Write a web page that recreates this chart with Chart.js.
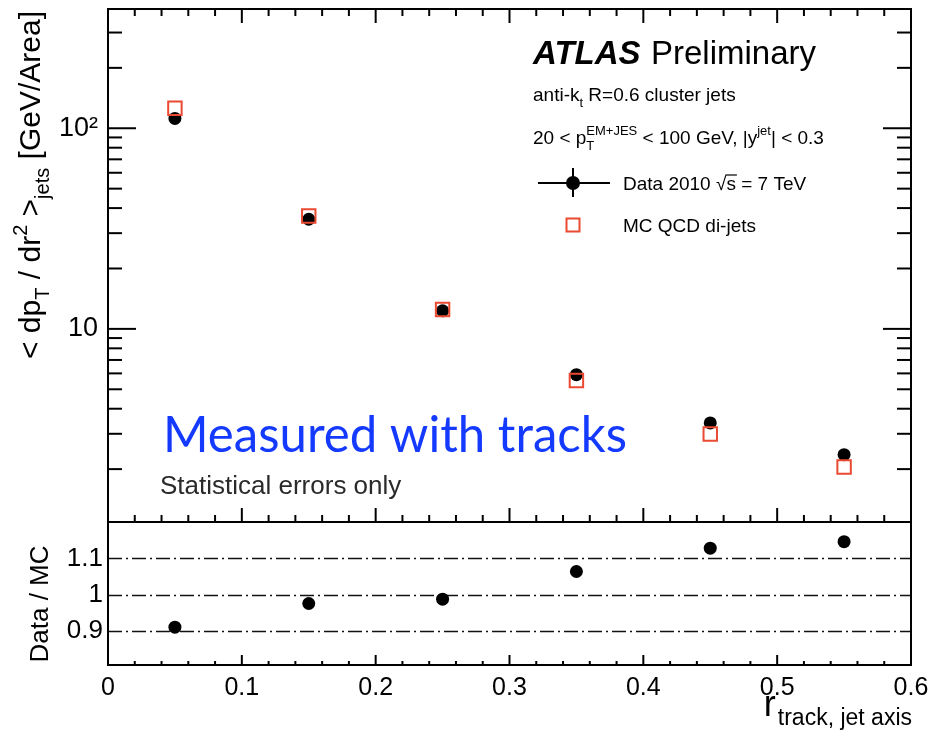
<!DOCTYPE html>
<html>
<head>
<meta charset="utf-8">
<script src="https://cdn.jsdelivr.net/npm/chart.js@4/dist/chart.umd.min.js"></script>
<style>
  html, body { margin: 0; padding: 0; background: #fff; }
  #wrap { position: relative; width: 951px; height: 730px; overflow: hidden; }
  #wrap canvas { position: absolute; left: 0; }
  #upper { top: 0; }
  #lower { top: 512px; }
</style>
</head>
<body>
<div id="wrap">
  <canvas id="upper" width="951" height="523"></canvas>
  <canvas id="lower" width="951" height="218"></canvas>
</div>
<script>
// r bin centres and measured values
const rBins = [0.05, 0.15, 0.25, 0.35, 0.45, 0.55];
const dataDensity = [112, 35.2, 12.3, 5.91, 3.40, 2.36];
const mcDensity = [125.7, 36.5, 12.5, 5.53, 2.99, 2.05];
const dataOverMc = [0.911, 0.976, 0.988, 1.064, 1.128, 1.146];

// axis ticks and labels
const xTicks = [0, 0.1, 0.2, 0.3, 0.4, 0.5, 0.6];
const xTickLabels = ['0', '0.1', '0.2', '0.3', '0.4', '0.5', '0.6'];
const densityTicks = [10, 100];
const densityTickLabels = ['10', '10²'];
const ratioTicks = [0.9, 1, 1.1];
const ratioTickLabels = ['0.9', '1', '1.1'];
const ratioRefLines = [0.9, 1, 1.1];

const HELV = '"Liberation Sans", Arial, Helvetica, sans-serif';
const RED = '#ea4a31';

// text with sub/superscripts, runs = [[text, kind], ...]
function runFont(kind, size, style) {
  const s = kind === 'n' ? size : Math.round(size * 0.68);
  return (style || '') + ' ' + s + 'px ' + HELV;
}
function measureRuns(ctx, runs, size) {
  let w = 0;
  for (const [t, k] of runs) {
    ctx.font = runFont(k, size);
    if (k === 'both') w += Math.max(ctx.measureText(t[0]).width, ctx.measureText(t[1]).width);
    else w += ctx.measureText(t).width;
  }
  return w;
}
function drawRuns(ctx, runs, x, y, size) {
  let cx = x;
  ctx.textAlign = 'left';
  ctx.textBaseline = 'alphabetic';
  for (const [t, k] of runs) {
    ctx.font = runFont(k, size);
    if (k === 'both') {
      ctx.fillText(t[0], cx, y + size * 0.3);
      ctx.fillText(t[1], cx, y - size * 0.45);
      cx += Math.max(ctx.measureText(t[0]).width, ctx.measureText(t[1]).width);
    } else {
      const dy = k === 'sub' ? size * 0.3 : k === 'sup' ? -size * 0.45 : 0;
      ctx.fillText(t, cx, y + dy);
      cx += ctx.measureText(t).width;
    }
  }
  return cx;
}

function line(ctx, x1, y1, x2, y2) {
  ctx.beginPath();
  ctx.moveTo(x1, y1);
  ctx.lineTo(x2, y2);
  ctx.stroke();
}

// keep the plot frames at fixed pixel positions
function fixWidth(s) {
  s.width = 108;
  s.paddingTop = s.paddingBottom = s.paddingLeft = s.paddingRight = 0;
}
function fixHeight(s) {
  s.height = 65;
  s.paddingTop = s.paddingBottom = s.paddingLeft = s.paddingRight = 0;
}

// ROOT-like frame with inward ticks on the density panel
const upperDecor = {
  id: 'upperDecor',
  afterDraw(chart) {
    const { ctx, chartArea: a, scales: { x, y } } = chart;
    ctx.save();
    ctx.strokeStyle = '#000';
    ctx.lineWidth = 2;
    ctx.strokeRect(a.left, a.top, a.right - a.left, a.bottom - a.top);

    for (let i = 0; i <= 30; i++) {
      const px = x.getPixelForValue(i * 0.02);
      const len = i % 5 === 0 ? 14 : 7;
      line(ctx, px, a.top, px, a.top + len);
      line(ctx, px, a.bottom, px, a.bottom - len);
    }
    for (let dec = 1; dec <= 100; dec *= 10) {
      for (let d = 1; d <= 9; d++) {
        const v = d * dec;
        if (v < y.min || v > y.max) continue;
        const py = y.getPixelForValue(v);
        const len = d === 1 ? 28 : 14;
        line(ctx, a.left, py, a.left + len, py);
        line(ctx, a.right, py, a.right - len, py);
      }
    }

    // y axis title
    ctx.fillStyle = '#000';
    const title = [['< dp', 'n'], ['T', 'sub'], [' / dr', 'n'], ['2', 'sup'], [' >', 'n'], ['jets', 'sub'], [' [GeV/Area]', 'n']];
    ctx.save();
    ctx.translate(40, 185);
    ctx.rotate(-Math.PI / 2);
    const tw = measureRuns(ctx, title, 30);
    drawRuns(ctx, title, -tw / 2, 0, 30);
    ctx.restore();

    // ATLAS label and selection text
    ctx.textBaseline = 'alphabetic';
    ctx.textAlign = 'left';
    ctx.font = 'italic bold 33px ' + HELV;
    ctx.fillText('ATLAS', 533, 64);
    ctx.font = '33px ' + HELV;
    ctx.fillText('Preliminary', 651, 64);
    drawRuns(ctx, [['anti-k', 'n'], ['t', 'sub'], [' R=0.6 cluster jets', 'n']], 533, 101, 19);
    drawRuns(ctx, [['20 < p', 'n'], [['T', 'EM+JES'], 'both'], [' < 100 GeV, |y', 'n'], ['jet', 'sup'], ['| < 0.3', 'n']], 533, 144, 19);

    // legend
    const ly1 = 183, ly2 = 225, lx = 573;
    ctx.lineWidth = 2;
    line(ctx, 538, ly1, 610, ly1);
    line(ctx, lx, ly1 - 15, lx, ly1 + 14);
    ctx.beginPath();
    ctx.arc(lx, ly1, 7, 0, Math.PI * 2);
    ctx.fill();
    ctx.strokeStyle = RED;
    ctx.strokeRect(lx - 6.5, ly2 - 6.5, 13, 13);
    ctx.font = '19px ' + HELV;
    const dStart = 'Data 2010 √';
    ctx.fillText(dStart, 623, ly1 + 7);
    const sx = 623 + ctx.measureText(dStart).width;
    ctx.fillText('s = 7 TeV', sx, ly1 + 7);
    ctx.strokeStyle = '#000';
    ctx.lineWidth = 1.2;
    line(ctx, sx - 1, ly1 - 8, sx + ctx.measureText('s').width + 1, ly1 - 8);
    ctx.fillText('MC QCD di-jets', 623, ly2 + 7);

    // annotations
    ctx.fillStyle = '#1439ff';
    ctx.font = '50px Lato, "Open Sans", sans-serif';
    ctx.fillText('Measured with tracks', 163, 452, 464);
    ctx.fillStyle = '#2a2a2a';
    ctx.font = '26px ' + HELV;
    ctx.fillText('Statistical errors only', 160, 494, 244);
    ctx.restore();
  }
};

// frame, reference lines and titles on the ratio panel
const lowerDecor = {
  id: 'lowerDecor',
  beforeDatasetsDraw(chart) {
    const { ctx, chartArea: a, scales: { y } } = chart;
    ctx.save();
    ctx.strokeStyle = '#111';
    ctx.lineWidth = 1.6;
    ctx.setLineDash([14, 4, 2, 4]);
    for (const v of ratioRefLines) {
      const py = Math.round(y.getPixelForValue(v)) + 0.5;
      line(ctx, a.left, py, a.right, py);
    }
    ctx.restore();
  },
  afterDraw(chart) {
    const { ctx, chartArea: a, scales: { x } } = chart;
    ctx.save();
    ctx.strokeStyle = '#000';
    ctx.lineWidth = 2;
    ctx.strokeRect(a.left, a.top, a.right - a.left, a.bottom - a.top);
    for (let i = 0; i <= 30; i++) {
      const px = x.getPixelForValue(i * 0.02);
      const len = i % 5 === 0 ? 10 : 4;
      line(ctx, px, a.bottom, px, a.bottom - len);
    }

    ctx.fillStyle = '#000';
    ctx.save();
    ctx.translate(48, 92);
    ctx.rotate(-Math.PI / 2);
    ctx.font = '26px ' + HELV;
    ctx.textAlign = 'center';
    ctx.fillText('Data / MC', 0, 0);
    ctx.restore();

    // x axis title, right aligned to the frame
    ctx.font = '36px ' + HELV;
    const rw = ctx.measureText('r').width;
    ctx.font = '23px ' + HELV;
    const sw = ctx.measureText('track, jet axis').width;
    const x0 = 912 - sw - rw - 2;
    ctx.textAlign = 'left';
    ctx.font = '36px ' + HELV;
    ctx.fillText('r', x0, 204);
    ctx.font = '23px ' + HELV;
    ctx.fillText('track, jet axis', x0 + rw + 2, 213);
    ctx.restore();
  }
};

const commonPlugins = { legend: { display: false }, tooltip: { enabled: false } };

new Chart(document.getElementById('upper'), {
  type: 'scatter',
  data: {
    datasets: [
      {
        label: 'MC QCD di-jets',
        data: rBins.map((r, i) => ({ x: r, y: mcDensity[i] })),
        pointStyle: 'rect',
        pointRadius: 9.5,
        borderWidth: 2,
        borderColor: RED,
        backgroundColor: 'rgba(0,0,0,0)',
        order: 0
      },
      {
        label: 'Data 2010',
        data: rBins.map((r, i) => ({ x: r, y: dataDensity[i] })),
        pointRadius: 6.5,
        borderWidth: 0,
        backgroundColor: '#000',
        order: 1
      }
    ]
  },
  options: {
    responsive: false,
    animation: false,
    events: [],
    layout: { autoPadding: false, padding: { left: 0, right: 40, top: 9, bottom: 1 } },
    plugins: commonPlugins,
    scales: {
      x: { type: 'linear', min: 0, max: 0.6, display: false },
      y: {
        type: 'logarithmic',
        min: 1.09,
        max: 393,
        grid: { display: false, drawTicks: false },
        border: { display: false },
        afterFit: fixWidth,
        afterBuildTicks: s => { s.ticks = densityTicks.map(v => ({ value: v })); },
        ticks: {
          autoSkip: false,
          padding: 10,
          color: '#000',
          font: { family: HELV, size: 27 },
          callback: v => densityTickLabels[densityTicks.indexOf(v)]
        }
      }
    }
  },
  plugins: [upperDecor]
});

new Chart(document.getElementById('lower'), {
  type: 'scatter',
  data: {
    datasets: [{
      label: 'Data / MC',
      data: rBins.map((r, i) => ({ x: r, y: dataOverMc[i] })),
      pointRadius: 6.5,
      borderWidth: 0,
      backgroundColor: '#000'
    }]
  },
  options: {
    responsive: false,
    animation: false,
    events: [],
    layout: { autoPadding: false, padding: { left: 0, right: 40, top: 10, bottom: 0 } },
    plugins: commonPlugins,
    scales: {
      x: {
        type: 'linear',
        min: 0,
        max: 0.6,
        grid: { display: false, drawTicks: false },
        border: { display: false },
        afterFit: fixHeight,
        afterBuildTicks: s => { s.ticks = xTicks.map(v => ({ value: v })); },
        ticks: {
          autoSkip: false,
          maxRotation: 0,
          padding: 8,
          color: '#000',
          font: { family: HELV, size: 25 },
          callback: v => xTickLabels[xTicks.indexOf(v)]
        }
      },
      y: {
        type: 'linear',
        min: 0.807,
        max: 1.2,
        grid: { display: false, drawTicks: false },
        border: { display: false },
        afterFit: fixWidth,
        afterBuildTicks: s => { s.ticks = ratioTicks.map(v => ({ value: v })); },
        ticks: {
          autoSkip: false,
          padding: 5,
          color: '#000',
          font: { family: HELV, size: 26 },
          callback: v => ratioTickLabels[ratioTicks.indexOf(v)]
        }
      }
    }
  },
  plugins: [lowerDecor]
});
</script>
</body>
</html>
